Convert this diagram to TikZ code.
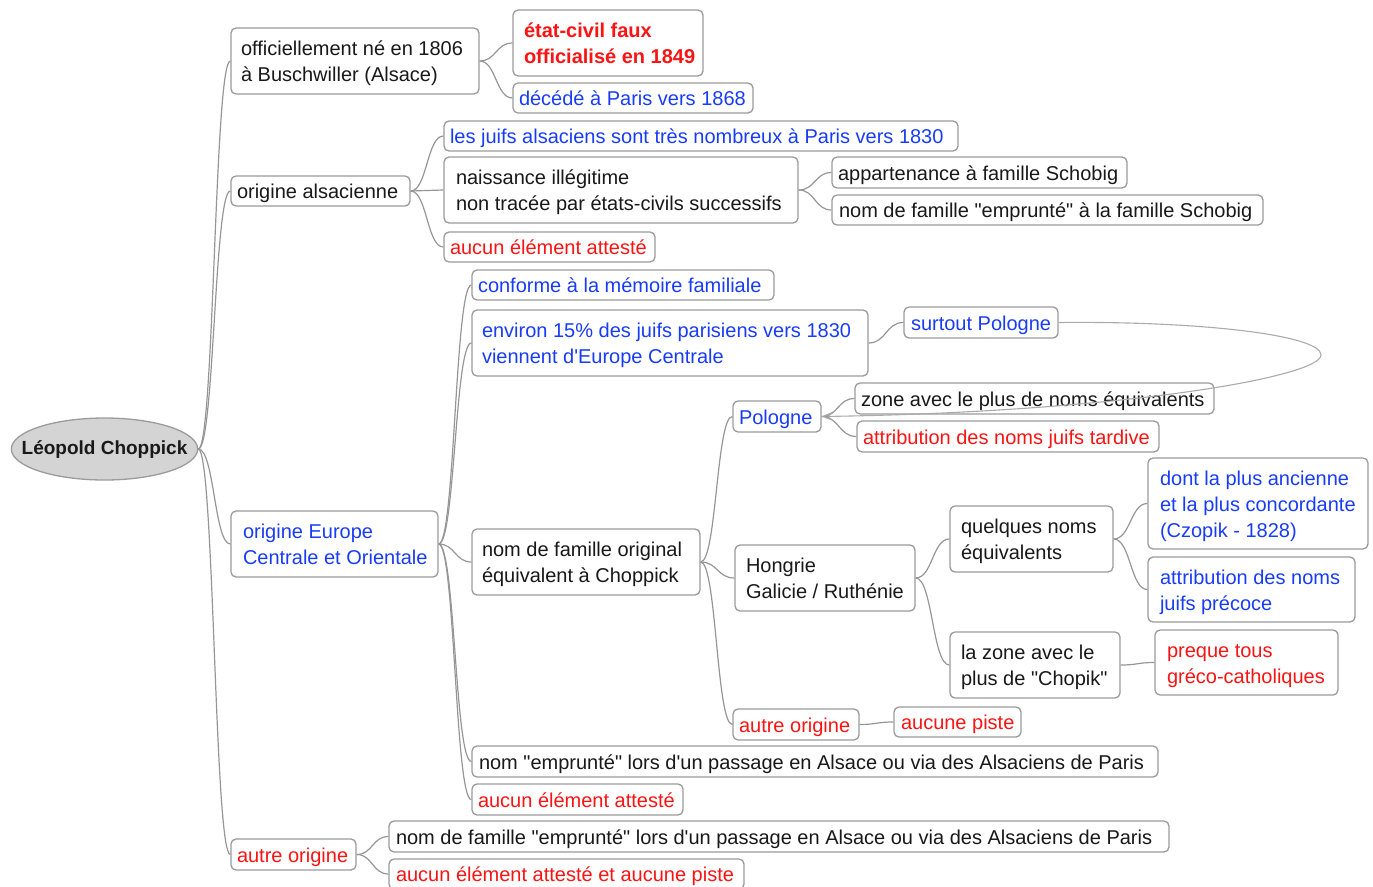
\documentclass[tikz,border=0pt]{standalone}
\usepackage{fontspec}
\setmainfont{Liberation Sans}[Ligatures=TeXOff]
\usetikzlibrary{arrows.meta,shapes.geometric,calc}
\definecolor{tblue}{RGB}{25,60,250}
\definecolor{tred}{RGB}{250,20,20}
\definecolor{tblack}{RGB}{25,25,25}
\definecolor{bordergray}{RGB}{155,155,155}
\definecolor{linegray}{RGB}{150,150,150}
\definecolor{rootfill}{RGB}{212,212,212}
\tikzset{
  box/.style={draw=bordergray, line width=1.3pt, rounded corners=5pt, fill=white,
    inner sep=0pt, font=\fontsize{20}{26}\selectfont},
  conn/.style={draw=linegray, line width=1.2pt},
  rootnode/.style={ellipse, draw=bordergray, line width=1.3pt, fill=rootfill,
    font=\fontsize{19}{24}\selectfont\bfseries, text=tblack, inner xsep=-17pt, inner ysep=0pt},
}
\newcommand{\bx}[8]{%
  \pgfmathsetmacro{\bw}{#4-#2}\pgfmathsetmacro{\bh}{#5-#3}%
  \pgfmathsetmacro{\cx}{(#2+#4)/2}\pgfmathsetmacro{\cy}{(#3+#5)/2}%
  \node[box, text=#7, minimum width=\bw pt, minimum height=\bh pt] (#1) at (\cx,-\cy)
    {\makebox[\bw pt][l]{\hspace*{#6pt}\raisebox{-7.5pt}[0pt][0pt]{\begin{tabular}{@{}l@{}}#8\end{tabular}}}};}
\newcommand{\cn}[2]{%
  \draw[conn] let \p1=(#1.east), \p2=(#2.west), \n1={0.5*(\x1+\x2)} in
    (\p1) .. controls (\n1,\y1) and (\n1,\y2) .. (\p2);}
\begin{document}
\begin{tikzpicture}[x=1pt,y=1pt]
\useasboundingbox (0,0) rectangle (1373,-886);
% ---- nodes ----
\node[rootnode, minimum width=186pt, minimum height=62pt] (root) at (104.5,-449) {Léopold Choppick};
\bx{n1}{231}{28}{479}{94}{10}{tblack}{officiellement né en 1806\\à Buschwiller (Alsace)}
\bx{etat}{513}{10}{703}{76}{11}{tred}{\bfseries état-civil faux\\\bfseries officialisé en 1849}
\bx{deced}{513}{83}{753}{113}{6}{tblue}{décédé à Paris vers 1868}
\bx{n2}{231}{176}{410}{206}{6}{tblack}{origine alsacienne}
\bx{juifs}{444}{121}{958}{151}{6}{tblue}{les juifs alsaciens sont très nombreux à Paris vers 1830}
\bx{naiss}{444}{157}{798}{223}{12}{tblack}{naissance illégitime\\non tracée par états-civils successifs}
\bx{aucuna}{444}{232}{655}{262}{6}{tred}{aucun élément attesté}
\bx{appart}{832}{157}{1127}{188}{6}{tblack}{appartenance à famille Schobig}
\bx{nomfam}{832}{195}{1263}{225}{7}{tblack}{nom de famille "emprunté" à la famille Schobig}
\bx{n3}{231}{511}{438}{577}{12}{tblue}{origine Europe\\Centrale et Orientale}
\bx{conforme}{472}{270}{774}{300}{6}{tblue}{conforme à la mémoire familiale}
\bx{environ}{472}{310}{868}{376}{10}{tblue}{environ 15\% des juifs parisiens vers 1830\\viennent d'Europe Centrale}
\bx{surtout}{904}{307}{1058}{338}{7}{tblue}{surtout Pologne}
\bx{nomorig}{472}{529}{700}{595}{10}{tblack}{nom de famille original\\équivalent à Choppick}
\bx{pologne}{733}{401}{821}{432}{6}{tblue}{Pologne}
\bx{zone}{855}{383}{1214}{414}{6}{tblack}{zone avec le plus de noms équivalents}
\bx{tardive}{857}{421}{1159}{452}{6}{tred}{attribution des noms juifs tardive}
\bx{hongrie}{735}{545}{915}{611}{11}{tblack}{Hongrie\\Galicie / Ruthénie}
\bx{quelques}{950}{506}{1113}{572}{11}{tblack}{quelques noms\\équivalents}
\bx{dont}{1148}{458}{1368}{549}{12}{tblue}{dont la plus ancienne\\et la plus concordante\\(Czopik - 1828)}
\bx{precoce}{1148}{557}{1355}{622}{12}{tblue}{attribution des noms\\juifs précoce}
\bx{lazone}{950}{632}{1120}{698}{11}{tblack}{la zone avec le\\plus de "Chopik"}
\bx{preque}{1155}{630}{1338}{695}{12}{tred}{preque tous\\gréco-catholiques}
\bx{autreb}{733}{709}{859}{740}{6}{tred}{autre origine}
\bx{aucunepiste}{894}{707}{1021}{737}{7}{tred}{aucune piste}
\bx{emprunte}{472}{746}{1158}{777}{7}{tblack}{nom "emprunté" lors d'un passage en Alsace ou via des Alsaciens de Paris}
\bx{aucunb}{472}{784}{683}{815}{6}{tred}{aucun élément attesté}
\bx{n4}{231}{839}{356}{870}{6}{tred}{autre origine}
\bx{empruntec}{389}{821}{1169}{852}{7}{tblack}{nom de famille "emprunté" lors d'un passage en Alsace ou via des Alsaciens de Paris}
\bx{aucunc}{389}{859}{744}{889}{7}{tred}{aucun élément attesté et aucune piste}
% ---- connectors ----
\cn{root}{n1}\cn{root}{n2}\cn{root}{n3}\cn{root}{n4}
\cn{n1}{etat}\cn{n1}{deced}
\cn{n2}{juifs}\cn{n2}{naiss}\cn{n2}{aucuna}
\cn{naiss}{appart}\cn{naiss}{nomfam}
\cn{n3}{conforme}\cn{n3}{environ}\cn{n3}{nomorig}\cn{n3}{emprunte}\cn{n3}{aucunb}
\cn{environ}{surtout}
\cn{nomorig}{pologne}\cn{nomorig}{hongrie}\cn{nomorig}{autreb}
\cn{pologne}{zone}\cn{pologne}{tardive}
\cn{hongrie}{quelques}\cn{hongrie}{lazone}
\cn{quelques}{dont}\cn{quelques}{precoce}
\cn{lazone}{preque}
\cn{autreb}{aucunepiste}
\cn{n4}{empruntec}\cn{n4}{aucunc}
% relationship
\coordinate (loopend) at (1321,-355);
\draw[draw=linegray!80, line width=1.1pt, -{Stealth[length=11pt,width=9pt,fill=linegray]}]
  (surtout.east) .. controls (1200,-321) and (1321,-335) .. (loopend)
  .. controls (1321,-377) and (1120,-412) .. (pologne.east);
\end{tikzpicture}
\end{document}
